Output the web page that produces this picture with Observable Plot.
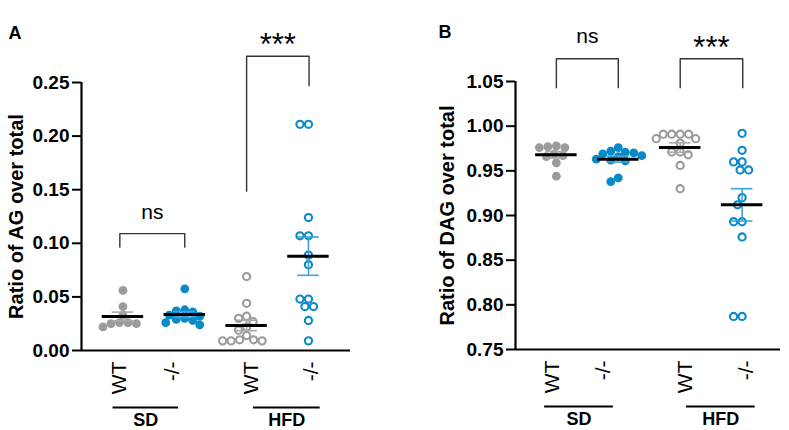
<!DOCTYPE html>
<html>
<head>
<meta charset="utf-8">
<script src="https://cdn.jsdelivr.net/npm/d3@7"></script>
<script src="https://cdn.jsdelivr.net/npm/@observablehq/plot@0.6"></script>
<style>
  html, body { margin: 0; padding: 0; background: #fff; }
  #wrap { display: flex; width: 789px; height: 430px; overflow: hidden; }
  #wrap svg { display: block; max-width: none; overflow: visible; }
</style>
</head>
<body>
<div id="wrap"></div>
<script>
// ---------- data ----------
const groups = ["SD WT", "SD -/-", "HFD WT", "HFD -/-"];
const tickLabels = ["WT", "-/-", "WT", "-/-"];
const diets = ["SD", "HFD"];

// Panel A: Ratio of AG over total
const agSdWt = [0.056, 0.041, 0.033, 0.026, 0.026, 0.025, 0.025, 0.022];
const agSdKo = [0.0575, 0.038, 0.037, 0.036, 0.033, 0.032, 0.030, 0.029, 0.028, 0.026, 0.024];
const agHfdWt = [0.069, 0.044, 0.032, 0.030, 0.027, 0.022, 0.019, 0.014, 0.010, 0.009, 0.009, 0.009, 0.010];
const agHfdKo = [0.211, 0.211, 0.124, 0.107, 0.107, 0.089, 0.080, 0.048, 0.048, 0.041, 0.041, 0.028, 0.009];
const agTicks = [0, 0.05, 0.10, 0.15, 0.20, 0.25];

// Panel B: Ratio of DAG over total
const dagSdWt = [0.978, 0.977, 0.976, 0.976, 0.969, 0.967, 0.966, 0.959, 0.944];
const dagSdKo = [0.976, 0.972, 0.971, 0.970, 0.969, 0.967, 0.966, 0.963, 0.962, 0.961, 0.942, 0.938];
const dagHfdWt = [0.991, 0.991, 0.991, 0.991, 0.986, 0.986, 0.981, 0.971, 0.971, 0.968, 0.956, 0.930];
const dagHfdKo = [0.992, 0.973, 0.960, 0.960, 0.951, 0.951, 0.920, 0.912, 0.893, 0.893, 0.876, 0.787, 0.787];
const dagTicks = [0.75, 0.80, 0.85, 0.90, 0.95, 1.00, 1.05];

// significance labels
const sigLabels = ["ns", "***"];

// ---------- styling ----------
const FONT = "'Liberation Sans', Arial, Helvetica, sans-serif";
const GRAY = "#9b9b9b", BLUE = "#0a89c9";
const dotColors = [GRAY, BLUE, GRAY, BLUE];
const errColors = ["#a9a9a9", "#3ba4db", "#a9a9a9", "#3ba4db"];
const filled = [true, true, false, false];

// simple beeswarm: offsets in pixels
function swarm(vals, ypx, diam) {
  const placed = [];
  const order = vals.map((v, k) => ({v, k})).sort((a, b) => b.v - a.v);
  for (const p of order) {
    const py = p.v * ypx;
    let off = 0;
    for (let s = 0; s < 400; s++) {
      const cand = (s % 2 === 0 ? 1 : -1) * Math.ceil(s / 2) * 0.5;
      if (placed.every(q => Math.hypot(q.off - cand, q.py - py) >= diam)) { off = cand; break; }
    }
    placed.push({off, py, v: p.v});
  }
  return placed;
}

function makePanel(cfg) {
  const height = 430;
  const {width, ml, mr, mt, mb, xDomain, yDomain} = cfg;
  const xpx = (width - ml - mr) / (xDomain[1] - xDomain[0]);
  const ypx = (height - mt - mb) / (yDomain[1] - yDomain[0]);

  const dots = [];
  cfg.series.forEach((vals, g) => {
    swarm(vals, ypx, 8.2).forEach(o => dots.push({g, x: g + o.off / xpx, y: o.v}));
  });
  const stats = cfg.series.map((vals, g) => {
    const m = d3.mean(vals);
    const s = d3.deviation(vals) / Math.sqrt(vals.length);
    return {g, m, lo: m - s, hi: m + s};
  });
  const caps = stats.flatMap(s => [{g: s.g, y: s.lo}, {g: s.g, y: s.hi}]);

  const bracketPts = cfg.brackets.flatMap((b, i) => [
    {id: i, x: b.a, y: b.yl}, {id: i, x: b.a, y: b.top},
    {id: i, x: b.b, y: b.top}, {id: i, x: b.b, y: b.yr}
  ]);
  const dietRows = diets.map((d, i) => ({d, x1: cfg.dietSpan[i][0], x2: cfg.dietSpan[i][1]}));
  const y0 = yDomain[0];

  return Plot.plot({
    width, height,
    marginLeft: ml, marginRight: mr, marginTop: mt, marginBottom: mb,
    x: {domain: xDomain, axis: null},
    y: {domain: yDomain, axis: null},
    style: {fontFamily: FONT, background: "white", color: "black", overflow: "visible"},
    marks: [
      Plot.axisY({ticks: cfg.yTicks, tickFormat: d3.format(".2f"), tickSize: 9, tickPadding: 3,
        strokeWidth: 2, fontSize: 19, fontWeight: "bold", label: null, anchor: "left"}),
      Plot.axisX({ticks: cfg.labelPos, tickFormat: (d, i) => tickLabels[i], tickRotate: -90,
        tickSize: 0, tickPadding: 11, fontSize: 21, label: null, anchor: "bottom"}),
      Plot.ruleX([xDomain[0]], {stroke: "black", strokeWidth: 2.2}),
      Plot.ruleY([y0], {stroke: "black", strokeWidth: 2.2}),
      // dots
      Plot.dot(dots.filter(d => filled[d.g]), {x: "x", y: "y", r: 4.4, fill: d => dotColors[d.g], stroke: "none"}),
      Plot.dot(dots.filter(d => !filled[d.g]), {x: "x", y: "y", r: 3.6, fill: "none", stroke: d => dotColors[d.g], strokeWidth: 2.1}),
      // error bars (SEM)
      Plot.ruleX(stats, {x: "g", y1: "lo", y2: "hi", stroke: d => errColors[d.g], strokeWidth: 1.6}),
      Plot.ruleY(caps, {y: "y", x1: d => d.g - 0.175, x2: d => d.g + 0.175, stroke: d => errColors[d.g], strokeWidth: 1.6}),
      // means
      Plot.ruleY(stats, {y: "m", x1: d => d.g - 0.335, x2: d => d.g + 0.335, stroke: "black", strokeWidth: 3}),
      // brackets
      Plot.line(bracketPts, {x: "x", y: "y", z: "id", stroke: "#333", strokeWidth: 1.4}),
      Plot.text(cfg.brackets, {x: d => (d.a + d.b) / 2, y: "ly", text: (d, i) => sigLabels[i],
        fontSize: (d, i) => i === 0 ? 21 : 31, fontWeight: (d, i) => i === 0 ? "normal" : "bold", fill: "black"}),
      // diet underlines
      Plot.ruleY(dietRows, {y: () => y0, x1: "x1", x2: "x2", dy: 57, stroke: "black", strokeWidth: 2}),
      Plot.text(dietRows, {x: d => (d.x1 + d.x2) / 2, y: () => y0, text: "d", dy: 70, fontSize: 18, fontWeight: "bold", fill: "black"}),
      // axis title & panel letter
      Plot.text([cfg.yLabel], {frameAnchor: "left", rotate: -90, textAnchor: "middle", dx: cfg.labelDx,
        fontSize: 20, fontWeight: "bold", fill: "black"}),
      Plot.text([cfg.letter], {frameAnchor: "top-left", textAnchor: "start", lineAnchor: "top",
        dx: cfg.letterDx, dy: -56, fontSize: 18, fontWeight: "bold", fill: "black"})
    ]
  });
}

const wrap = document.getElementById("wrap");

wrap.append(makePanel({
  width: 400, ml: 81, mr: 50, mt: 82, mb: 80,
  xDomain: [-0.67, 3.68], yDomain: [0, 0.25], yTicks: agTicks,
  series: [agSdWt, agSdKo, agHfdWt, agHfdKo],
  labelPos: [-0.06, 0.8, 2.08, 3.04],
  dietSpan: [[-0.16, 0.9], [2.11, 3.19]],
  brackets: [
    {a: -0.05, b: 1.0, top: 0.109, yl: 0.0964, yr: 0.0964, ly: 0.1287},
    {a: 2.0, b: 3.01, top: 0.2745, yl: 0.1486, yr: 0.247, ly: 0.2850}
  ],
  yLabel: "Ratio of AG over total", labelDx: -65, letter: "A", letterDx: -73
}));

wrap.append(makePanel({
  width: 389, ml: 115, mr: 9, mt: 81, mb: 81,
  xDomain: [-0.66, 3.62], yDomain: [0.75, 1.05], yTicks: dagTicks,
  series: [dagSdWt, dagSdKo, dagHfdWt, dagHfdKo],
  labelPos: [-0.065, 0.76, 2.08, 3.066],
  dietSpan: [[-0.19, 0.92], [2.1, 3.21]],
  brackets: [
    {a: 0, b: 1.0, top: 1.0755, yl: 1.043, yr: 1.043, ly: 1.101},
    {a: 2.0, b: 3.01, top: 1.0755, yl: 1.043, yr: 1.043, ly: 1.0875}
  ],
  yLabel: "Ratio of DAG over total", labelDx: -68, letter: "B", letterDx: -77
}));
</script>
</body>
</html>
